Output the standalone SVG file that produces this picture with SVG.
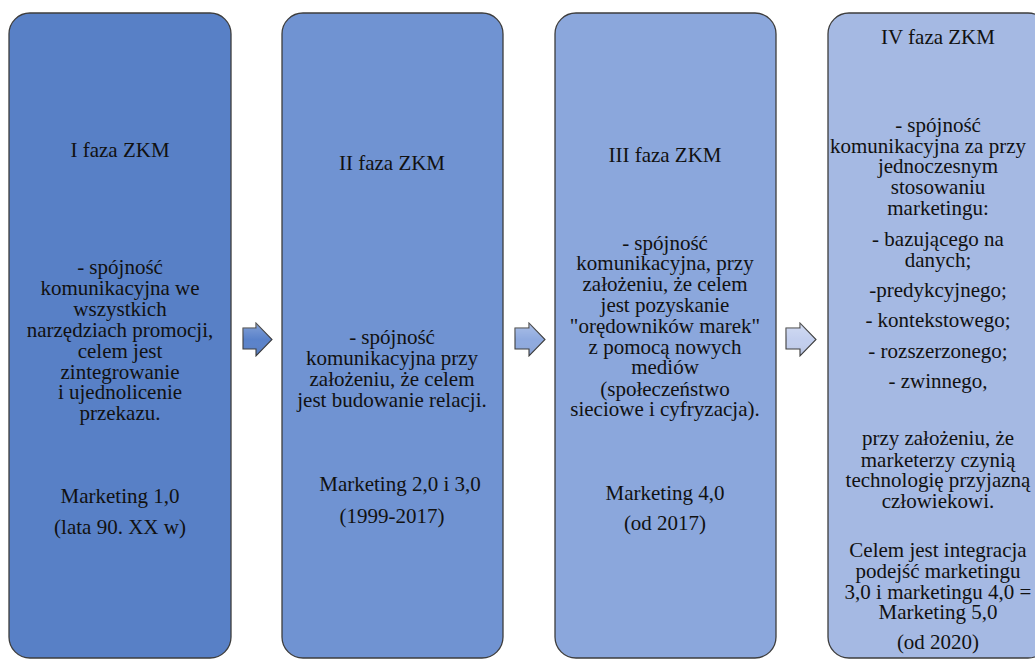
<svg xmlns="http://www.w3.org/2000/svg" width="1035" height="659" viewBox="0 0 1035 659">
  <defs>
    <linearGradient id="edgeHl" x1="0" y1="0" x2="0" y2="1">
      <stop offset="0" stop-color="#ffffff" stop-opacity="0"/>
      <stop offset="0.06" stop-color="#ffffff" stop-opacity="0.75"/>
      <stop offset="0.94" stop-color="#ffffff" stop-opacity="0.75"/>
      <stop offset="1" stop-color="#ffffff" stop-opacity="0"/>
    </linearGradient>
    <linearGradient id="arrowShade" x1="0" y1="0" x2="0" y2="1">
      <stop offset="0" stop-color="#ffffff" stop-opacity="0.25"/>
      <stop offset="0.5" stop-color="#ffffff" stop-opacity="0"/>
      <stop offset="1" stop-color="#000000" stop-opacity="0.08"/>
    </linearGradient>
  </defs>
  <style>
    .box { stroke: #3d3d3d; stroke-width: 1.3; }
    .hl { fill: none; stroke: url(#edgeHl); stroke-width: 1.6; }
    .arrow { stroke: #3d3d3d; stroke-width: 1.1; stroke-linejoin: miter; }
    text { font-family: "Liberation Serif", "Times New Roman", serif; font-size: 21px; fill: #111111; text-anchor: middle; }
  </style>

  <rect width="1035" height="659" fill="#ffffff"/>

  <!-- phase I -->
  <g id="phase1">
    <rect class="box" x="9" y="13" width="222" height="645" rx="21" fill="#5880C6"/>
    <path class="hl" d="M14 32 V640"/>
    <path class="hl" d="M226 32 V640"/>
    <text x="120" y="157">I faza ZKM</text>
    <text x="120" y="274">- spójność</text>
    <text x="120" y="295">komunikacyjna we</text>
    <text x="120" y="316">wszystkich</text>
    <text x="120" y="337">narzędziach promocji,</text>
    <text x="120" y="358">celem jest</text>
    <text x="120" y="379">zintegrowanie</text>
    <text x="120" y="399">i ujednolicenie</text>
    <text x="120" y="420">przekazu.</text>
    <text x="120" y="503">Marketing 1,0</text>
    <text x="120" y="534">(lata 90. XX w)</text>
  </g>

  <!-- phase II -->
  <g id="phase2">
    <rect class="box" x="282" y="13" width="221" height="645" rx="21" fill="#7093D2"/>
    <path class="hl" d="M287 32 V640"/>
    <path class="hl" d="M498 32 V640"/>
    <text x="392" y="170">II faza ZKM</text>
    <text x="392" y="344">- spójność</text>
    <text x="392" y="365">komunikacyjna przy</text>
    <text x="392" y="386">założeniu, że celem</text>
    <text x="392" y="407">jest budowanie relacji.</text>
    <text x="400" y="491">Marketing 2,0 i 3,0</text>
    <text x="392" y="523">(1999-2017)</text>
  </g>

  <!-- phase III -->
  <g id="phase3">
    <rect class="box" x="555" y="13" width="221" height="645" rx="21" fill="#8BA7DC"/>
    <path class="hl" d="M560 32 V640"/>
    <path class="hl" d="M771 32 V640"/>
    <text x="665" y="162">III faza ZKM</text>
    <text x="665" y="250">- spójność</text>
    <text x="665" y="270">komunikacyjna, przy</text>
    <text x="665" y="291">założeniu, że celem</text>
    <text x="665" y="312">jest pozyskanie</text>
    <text x="665" y="333">"orędowników marek"</text>
    <text x="665" y="354">z pomocą nowych</text>
    <text x="665" y="374">mediów</text>
    <text x="665" y="396">(społeczeństwo</text>
    <text x="665" y="416">sieciowe i cyfryzacja).</text>
    <text x="665" y="500">Marketing 4,0</text>
    <text x="665" y="530">(od 2017)</text>
  </g>

  <!-- phase IV -->
  <g id="phase4">
    <rect class="box" x="828" y="13" width="221" height="645" rx="21" fill="#A5B9E3"/>
    <path class="hl" d="M833 32 V640"/>
    <text x="938" y="44">IV faza ZKM</text>
    <text x="938" y="132">- spójność</text>
    <text x="928" y="153">komunikacyjna za przy</text>
    <text x="938" y="173">jednoczesnym</text>
    <text x="938" y="194">stosowaniu</text>
    <text x="938" y="215">marketingu:</text>
    <text x="938" y="246">- bazującego na</text>
    <text x="938" y="267">danych;</text>
    <text x="938" y="297">-predykcyjnego;</text>
    <text x="938" y="327">- kontekstowego;</text>
    <text x="938" y="358">- rozszerzonego;</text>
    <text x="938" y="388">- zwinnego,</text>
    <text x="938" y="445">przy założeniu, że</text>
    <text x="938" y="467">marketerzy czynią</text>
    <text x="938" y="487">technologię przyjazną</text>
    <text x="938" y="508">człowiekowi.</text>
    <text x="938" y="557">Celem jest integracja</text>
    <text x="938" y="578">podejść marketingu</text>
    <text x="938" y="599">3,0 i marketingu 4,0 =</text>
    <text x="938" y="619">Marketing 5,0</text>
    <text x="938" y="649">(od 2020)</text>
  </g>

  <!-- connectors: block arrows between phases -->
  <g id="connectors">
    <path class="arrow" fill="#5A82CA" d="M243 328 H256 V323 L272 339.5 L256 356 V349 H243 Z"/>
    <path fill="url(#arrowShade)" d="M243 328 H256 V323 L272 339.5 L256 356 V349 H243 Z"/>
    <path class="arrow" fill="#8FAADF" d="M515 328 H529 V323 L545 339.5 L529 356 V349 H515 Z"/>
    <path fill="url(#arrowShade)" d="M515 328 H529 V323 L545 339.5 L529 356 V349 H515 Z"/>
    <path class="arrow" fill="#C3CFEE" d="M786 328 H800 V323 L816 339.5 L800 356 V349 H786 Z"/>
    <path fill="url(#arrowShade)" d="M786 328 H800 V323 L816 339.5 L800 356 V349 H786 Z"/>
  </g>
</svg>
